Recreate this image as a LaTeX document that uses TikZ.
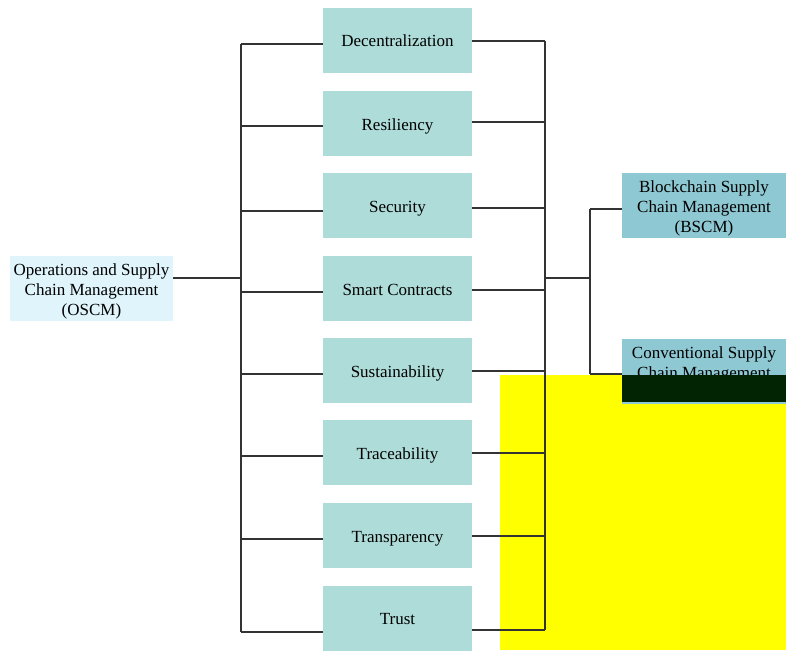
\documentclass[tikz,border=0pt]{standalone}
\usepackage{fontspec}
\setmainfont{Liberation Serif}
% set the text a little below the box centre without changing the box
\newcommand{\lowtext}[1]{\raisebox{-2.5pt}[\height][\depth]{\begin{tabular}{@{}c@{}}#1\end{tabular}}}
\begin{document}
\begin{tikzpicture}[x=1pt,y=-1pt,
  txt/.style={font=\fontsize{17}{20}\selectfont, text=black, inner sep=0pt},
  topic/.style={txt, fill=topicfill, minimum width=149pt, minimum height=65pt},
  rootbox/.style={txt, fill=rootfill, minimum width=163pt, minimum height=65pt},
  sidebox/.style={txt, fill=sidefill, minimum width=164pt, minimum height=65pt},
  link/.style={draw=linegray, line width=1.3pt}]
\definecolor{topicfill}{HTML}{AEDCD9}
\definecolor{rootfill}{HTML}{DFF4FB}
\definecolor{sidefill}{HTML}{8EC8D2}
\definecolor{linegray}{HTML}{333333}
\definecolor{patch}{HTML}{FFFF00}
\definecolor{darkpatch}{HTML}{022402}
\useasboundingbox (0,0) rectangle (786,650);

% yellow panel in the lower right
\fill[patch] (500,375) rectangle (786,650);

% root
\node[rootbox] (osc) at (91.5,288.5) {\lowtext{Operations and Supply\\Chain Management\\(OSCM)}};

% the eight topics with their left and right joints
\foreach \i/\t/\c/\l/\r in {
  1/Decentralization/40.5/44/41,
  2/Resiliency/123.5/126/122,
  3/Security/205.5/211/208,
  4/Smart Contracts/288.5/292/290,
  5/Sustainability/370.5/374/371,
  6/Traceability/452.5/456/453,
  7/Transparency/535.5/539/536,
  8/Trust/618/632/630}{
  \node[topic] (m\i) at (397.5,\c) {\lowtext{\t}};
  \coordinate (L\i) at (241,\l);
  \coordinate (R\i) at (545,\r);
  \draw[link] (L\i) -- (m\i.west |- L\i);
  \draw[link] (m\i.east |- R\i) -- (R\i);
}

% buses
\draw[link] (L1) -- (L8);
\draw[link] (R1) -- (R8);

% root to left bus
\coordinate (oj) at (241,278);
\draw[link] (osc.east |- oj) -- (oj);

% right side boxes
\node[sidebox] (bscm) at (704,205.5) {\lowtext{Blockchain Supply\\Chain Management\\(BSCM)}};
\node[sidebox] (cscm) at (704,371.5) {\lowtext{Conventional Supply\\Chain Management\\(CSCM)}};

\coordinate (rj) at (545,278);
\coordinate (sj) at (590,278);
\coordinate (sb) at (590,209);
\coordinate (sc) at (590,374);
\draw[link] (rj) -- (sj);
\draw[link] (sb) -- (sc);
\draw[link] (sb) -- (bscm.west |- sb);
\draw[link] (sc) -- (cscm.west |- sc);

% dark strip over the lower part of the CSCM box
\fill[darkpatch] (622,375) rectangle (786,402);
\end{tikzpicture}
\end{document}
